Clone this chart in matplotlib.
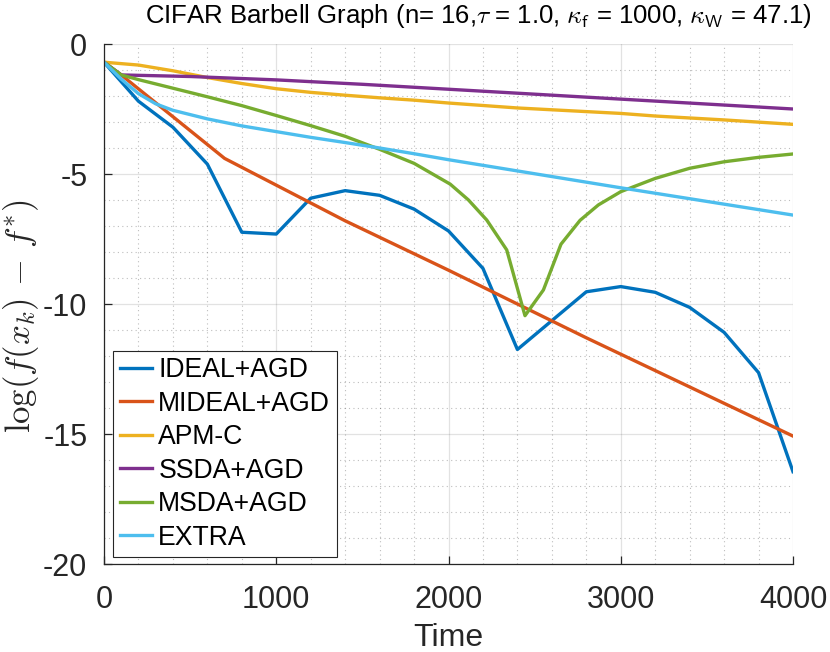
import matplotlib
matplotlib.use("Agg")
import matplotlib.pyplot as plt
from matplotlib.ticker import MultipleLocator

plt.rcParams['font.family'] = ['Liberation Sans', 'DejaVu Sans']
plt.rcParams['mathtext.fontset'] = 'cm'
plt.rcParams['axes.unicode_minus'] = False

# data
ideal_x = [0, 200, 400, 600, 800, 1000, 1200, 1400, 1600, 1800, 2000, 2200, 2400,
           2800, 3000, 3200, 3400, 3600, 3800, 4000]
ideal_y = [-0.70, -2.20, -3.20, -4.62, -7.24, -7.31, -5.93, -5.64, -5.82, -6.35, -7.19,
           -8.63, -11.75, -9.53, -9.33, -9.55, -10.13, -11.09, -12.64, -16.45]

mideal_x = [0, 100, 700, 1400, 2000, 2800, 4000]
mideal_y = [-0.70, -1.19, -4.40, -6.80, -8.70, -11.30, -15.08]

apm_x = [0, 200, 400, 600, 800, 1000, 1200, 1400, 1600, 1800, 2000, 2400, 2800,
         3000, 3200, 3600, 4000]
apm_y = [-0.70, -0.81, -1.03, -1.29, -1.52, -1.72, -1.86, -1.97, -2.07, -2.16, -2.27,
         -2.46, -2.60, -2.67, -2.77, -2.92, -3.09]

ssda_x = [0, 100, 500, 1000, 1500, 2000, 2500, 3000, 3500, 4000]
ssda_y = [-0.70, -1.19, -1.25, -1.38, -1.55, -1.74, -1.93, -2.12, -2.31, -2.50]

msda_x = [0, 100, 200, 400, 600, 800, 1000, 1200, 1400, 1600, 1800, 2010, 2116, 2222,
          2338, 2444, 2551, 2653, 2764, 2870, 3000, 3200, 3400, 3600, 3800, 4000]
msda_y = [-0.70, -1.19, -1.37, -1.70, -2.03, -2.37, -2.75, -3.14, -3.55, -4.05, -4.59,
          -5.39, -6.00, -6.77, -7.92, -10.45, -9.46, -7.70, -6.78, -6.19, -5.68, -5.17,
          -4.78, -4.53, -4.36, -4.23]

extra_x = [0, 100, 200, 300, 400, 600, 800, 1000, 1200, 1400, 1600, 1800, 2000, 3000, 4000]
extra_y = [-0.70, -1.35, -1.91, -2.30, -2.55, -2.88, -3.15, -3.37, -3.59, -3.79, -4.00,
           -4.22, -4.45, -5.53, -6.58]

fig = plt.figure(figsize=(8.3, 6.52), dpi=100)
ax = fig.add_axes([104 / 830, 88 / 652, 689 / 830, 520 / 652])

lw = 2.4
ax.plot(ideal_x, ideal_y, color=(0, 0.447, 0.741), lw=lw, label='IDEAL+AGD')
ax.plot(mideal_x, mideal_y, color=(0.85, 0.325, 0.098), lw=lw, label='MIDEAL+AGD')
ax.plot(apm_x, apm_y, color=(0.929, 0.694, 0.125), lw=lw, label='APM-C')
ax.plot(ssda_x, ssda_y, color=(0.494, 0.184, 0.556), lw=lw, label='SSDA+AGD')
ax.plot(msda_x, msda_y, color=(0.466, 0.674, 0.188), lw=lw, label='MSDA+AGD')
ax.plot(extra_x, extra_y, color=(0.301, 0.745, 0.933), lw=lw, label='EXTRA')

ax.set_xlim(0, 4000)
ax.set_ylim(-20, 0)
ax.xaxis.set_major_locator(MultipleLocator(1000))
ax.xaxis.set_minor_locator(MultipleLocator(200))
ax.yaxis.set_major_locator(MultipleLocator(5))
ax.yaxis.set_minor_locator(MultipleLocator(1))
ax.grid(which='major', color=(0.15, 0.15, 0.15), alpha=0.13, lw=0.9)
ax.grid(which='minor', color=(0.15, 0.15, 0.15), alpha=0.3, lw=0.8, ls=(0, (1, 3)))
ax.set_axisbelow(True)

for s in ['top', 'right']:
    ax.spines[s].set_visible(False)
for s in ['left', 'bottom']:
    ax.spines[s].set_color((0.15, 0.15, 0.15))
    ax.spines[s].set_linewidth(0.9)
ax.tick_params(which='major', direction='in', length=6, width=0.9,
               colors=(0.15, 0.15, 0.15), labelsize=22)
ax.tick_params(axis='x', which='major', pad=15)
ax.tick_params(axis='y', which='major', pad=12)
ax.tick_params(which='minor', length=0)

ax.set_xlabel('Time', fontsize=23, color=(0.15, 0.15, 0.15), va='baseline')
ax.xaxis.set_label_coords(0.5, -0.158)
ax.set_ylabel(r'$\log(f(x_k)\,-\,f^{*})$', fontsize=25, color=(0.15, 0.15, 0.15),
              va='center')
ax.yaxis.set_label_coords(-0.12, 0.477)
ax.set_title(r'CIFAR Barbell Graph (n= 16,$\tau$ = 1.0, $\kappa_{\mathsf{f}}$ = 1000, '
             r'$\kappa_{\mathsf{W}}$ = 47.1)', fontsize=18.5, pad=15, x=0.544)

leg = ax.legend(loc='lower left', bbox_to_anchor=(0.013, 0.013), borderaxespad=0,
                fontsize=19.2, handlelength=1.2, handletextpad=0.25,
                labelspacing=0.28, borderpad=0.25, fancybox=False,
                edgecolor=(0.15, 0.15, 0.15), framealpha=1)
leg.get_frame().set_linewidth(0.8)

fig.savefig('out.png', dpi=100)
